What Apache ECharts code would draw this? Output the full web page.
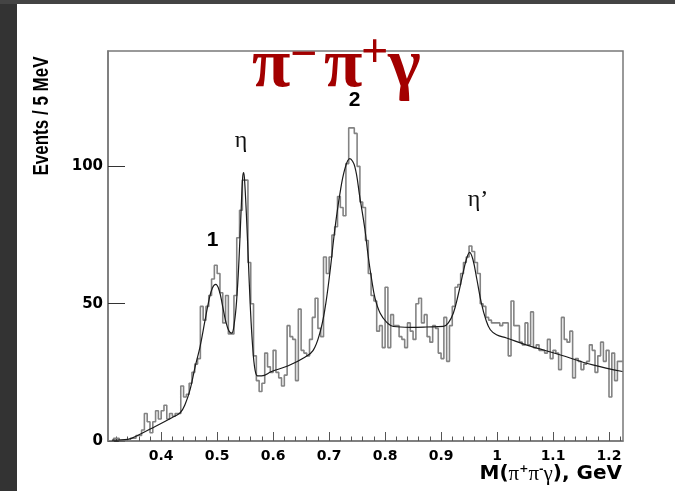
<!DOCTYPE html>
<html>
<head>
<meta charset="utf-8">
<script src="https://cdn.jsdelivr.net/npm/echarts/dist/echarts.min.js"></script>
<style>
html,body{margin:0;padding:0;background:#fff;}
#chart{width:675px;height:491px;}
</style>
</head>
<body>
<div id="chart"></div>
<script>
// ---- data ----
const binStart = 0.305;     // GeV, lower edge of first bin
const binWidth = 0.005;     // 5 MeV
const counts = [
  0,0,1,1,0,0,0,0,1,1,
  2,2,4,10,7,3,7,11,8,11,
  13,8,10,9,10,10,20,16,17,21,
  25,28,30,49,44,49,53,59,64,61,
  54,43,53,39,39,53,74,84,95,95,
  65,50,31,22,18,21,32,27,25,33,
  25,23,20,24,42,38,37,22,48,33,
  32,31,37,45,52,41,38,67,61,67,
  75,78,89,85,82,101,114,114,112,100,
  87,85,73,61,53,51,40,42,34,56,
  34,46,42,42,38,37,34,43,40,37,
  50,52,43,46,38,36,42,41,32,30,
  45,29,42,49,56,57,61,65,67,71,
  69,65,61,50,49,45,44,43,43,43,
  42,43,43,31,51,42,42,36,35,43,
  35,47,34,35,33,33,32,37,30,33,
  32,26,45,37,36,40,23,30,29,26,
  28,29,35,33,25,31,36,29,33,16,
  32,22,29,29
];
const fitMass = [0.312,0.3406,0.3596,0.3893,0.419,0.434,0.443,0.452,0.4606,0.4695,0.4784,0.4856,0.4915,0.4974,0.5034,0.5093,0.5153,0.5212,0.526,0.5307,0.5349,0.539,0.5426,0.5456,0.5474,0.5491,0.5521,0.5557,0.5592,0.5634,0.5676,0.5723,0.5794,0.5973,0.627,0.6567,0.6715,0.6834,0.6923,0.7012,0.7102,0.7191,0.728,0.7369,0.7458,0.7547,0.764,0.770,0.776,0.782,0.791,0.803,0.815,0.844,0.874,0.904,0.913,0.922,0.930,0.938,0.945,0.951,0.957,0.964,0.972,0.980,0.988,0.999,1.017,1.052,1.112,1.171,1.224];
const fitValue = [0.3,0.6,2.2,5.3,8.5,10.3,13.5,19,27,34.4,44,51.5,55.7,57,55,49.6,43.6,40,39.3,43,51.5,66,83,96,97.7,94.6,83,66,49,34.4,26,23.7,23.7,25.3,27.4,30.5,33,39.3,47.8,61,77,89.8,99,102.8,100,89,77,67,58.8,52,46.6,43.2,41.7,41.4,41.5,41.7,43,46.6,52.7,60,66,68.7,66,58.8,50.2,44.2,40.5,38.7,37.5,35,31.4,27.7,25.3];
const xTickValues = [0.4,0.5,0.6,0.7,0.8,0.9,1.0,1.1,1.2];
const xTickLabels = ['0.4','0.5','0.6','0.7','0.8','0.9','1','1.1','1.2'];
const xMinorTicks = [0.32,0.34,0.36,0.38,0.42,0.44,0.46,0.48,0.52,0.54,0.56,0.58,0.62,0.64,0.66,0.68,0.72,0.74,0.76,0.78,0.82,0.84,0.86,0.88,0.92,0.94,0.96,0.98,1.02,1.04,1.06,1.08,1.12,1.14,1.16,1.18,1.22];
const yTickValues = [0,50,100];
const yTickLabels = ['0','50','100'];
const xRange = [0.305, 1.225];
const yRange = [0, 142];

// ---- build ----
const histData = counts.map((c,i)=>[+(binStart + i*binWidth).toFixed(4), c]);
histData.push([+(binStart + counts.length*binWidth).toFixed(4), counts[counts.length-1]]);
const fitData = fitMass.map((m,i)=>[m, fitValue[i]]);

const chart = echarts.init(document.getElementById('chart'), null, {renderer:'canvas'});
const axisColor = '#787878';
const tickFont = {fontFamily:'DejaVu Sans', fontWeight:'bold', color:'#000'};

chart.setOption({
  animation:false,
  backgroundColor:'#ffffff',
  grid:{left:108, right:52, top:51, bottom:50, show:true, borderColor:axisColor, borderWidth:1.5, backgroundColor:'#fff'},
  xAxis:[{
    type:'value', min:xRange[0], max:xRange[1], position:'bottom',
    axisLine:{show:true, lineStyle:{color:axisColor, width:1.5}},
    axisTick:{show:true, inside:true, length:9, customValues:xTickValues, lineStyle:{color:'#555', width:1}},
    axisLabel:{show:true, customValues:xTickValues, margin:8, fontSize:14, ...tickFont,
      formatter:(v)=>{const k=xTickValues.findIndex(t=>Math.abs(t-v)<1e-6); return k>=0?xTickLabels[k]:'';}},
    splitLine:{show:false}
  },{
    type:'value', min:xRange[0], max:xRange[1], position:'bottom',
    axisLine:{show:false},
    axisTick:{show:true, inside:true, length:4.5, customValues:xMinorTicks, lineStyle:{color:'#555', width:1}},
    axisLabel:{show:false},
    splitLine:{show:false}
  }],
  yAxis:{
    type:'value', min:yRange[0], max:yRange[1],
    axisLine:{show:true, lineStyle:{color:axisColor, width:1.5}},
    axisTick:{show:true, inside:true, length:17, customValues:yTickValues, lineStyle:{color:'#333', width:1}},
    axisLabel:{show:true, customValues:yTickValues, margin:5, fontSize:15, ...tickFont,
      formatter:(v)=>{const k=yTickValues.indexOf(v); return k>=0?yTickLabels[k]:'';}},
    splitLine:{show:false}
  },
  series:[{
    type:'line', name:'data', xAxisIndex:0, step:'end', data:histData, symbol:'none',
    lineStyle:{color:'#838383', width:1.6}, z:2
  },{
    type:'line', name:'fit', xAxisIndex:0, data:fitData, symbol:'none', smooth:0.4,
    lineStyle:{color:'#1a1a1a', width:1.2}, z:3
  }],
  graphic:[
    {type:'rect', shape:{x:0,y:0,width:17,height:491}, style:{fill:'#333333'}, z:-10},
    {type:'rect', shape:{x:0,y:0,width:675,height:4}, style:{fill:'#444444'}, z:-10},
    // title pieces
    {type:'text', x:252, y:68, z:10, style:{text:'π', fill:'#a30000', font:'bold 70px "Liberation Serif"', align:'left', verticalAlign:'middle', textAlign:'left', textVerticalAlign:'middle'}},
    {type:'text', x:290, y:57, z:10, style:{text:'−', fill:'#a30000', font:'bold 48px "Liberation Serif"', align:'left', verticalAlign:'middle', textAlign:'left', textVerticalAlign:'middle'}},
    {type:'text', x:324, y:68, z:10, style:{text:'π', fill:'#a30000', font:'bold 70px "Liberation Serif"', align:'left', verticalAlign:'middle', textAlign:'left', textVerticalAlign:'middle'}},
    {type:'text', x:361, y:55, z:10, style:{text:'+', fill:'#a30000', font:'bold 48px "Liberation Serif"', align:'left', verticalAlign:'middle', textAlign:'left', textVerticalAlign:'middle'}},
    {type:'text', x:388, y:68, z:10, style:{text:'γ', fill:'#a30000', font:'bold 70px "Liberation Serif"', align:'left', verticalAlign:'middle', textAlign:'left', textVerticalAlign:'middle'}},
    // peak labels
    {type:'text', x:241, y:141, z:10, style:{text:'η', fill:'#111', font:'24px "Liberation Serif"', align:'center', verticalAlign:'middle', textAlign:'center', textVerticalAlign:'middle'}},
    {type:'text', x:478, y:200, z:10, style:{text:'η’', fill:'#111', font:'24px "Liberation Serif"', align:'center', verticalAlign:'middle', textAlign:'center', textVerticalAlign:'middle'}},
    {type:'text', x:212.5, y:240.5, z:10, style:{text:'1', fill:'#000', font:'bold 21px "Liberation Sans"', align:'center', verticalAlign:'middle', textAlign:'center', textVerticalAlign:'middle'}},
    {type:'text', x:354.5, y:100, z:10, style:{text:'2', fill:'#000', font:'bold 21px "Liberation Sans"', align:'center', verticalAlign:'middle', textAlign:'center', textVerticalAlign:'middle'}},
    // axis titles
    {type:'text', x:42, y:116, rotation:Math.PI/2, scaleY:1.35, z:10, style:{text:'Events / 5 MeV', fill:'#000', font:'bold 17px "Liberation Sans"', align:'center', verticalAlign:'middle', textAlign:'center', textVerticalAlign:'middle'}},
    {type:'text', x:622, y:474, z:10, style:{
      text:'{b|M(}{g|π}{s|+}{g|π}{s|-}{g|γ}{b|), GeV}', align:'right', verticalAlign:'middle', textAlign:'right', textVerticalAlign:'middle',
      rich:{
        b:{fontFamily:'DejaVu Sans', fontWeight:'bold', fontSize:20, fill:'#000', color:'#000'},
        g:{fontFamily:'Liberation Serif', fontSize:21, fill:'#000', color:'#000'},
        s:{fontFamily:'DejaVu Sans', fontWeight:'bold', fontSize:11, fill:'#000', color:'#000', verticalAlign:'top'}
      }}}
  ]
});
</script>
</body>
</html>
